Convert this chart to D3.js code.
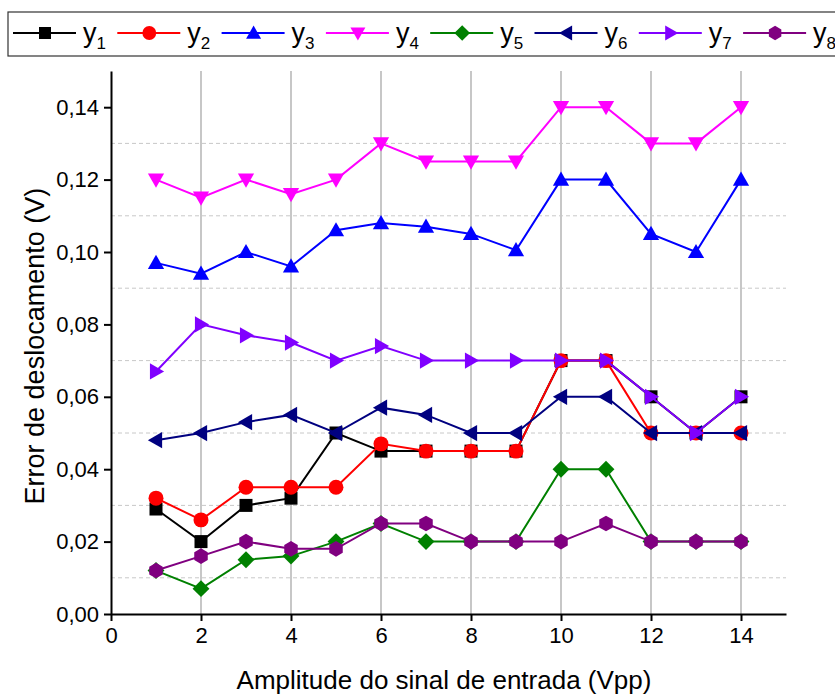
<!DOCTYPE html>
<meta charset="utf-8">
<title>Error de deslocamento</title>
<style>
  body { margin: 0; background: #fff; }
  text { font-family: "Liberation Sans Narrow", "Arial Narrow", "Liberation Sans", sans-serif; }
</style>
<body>
<script src="https://d3js.org/d3.v7.min.js"></script>
<script>

// dados
var amplitude = [1, 2, 3, 4, 5, 6, 7, 8, 9, 10, 11, 12, 13, 14];
var y1 = [0.029, 0.020, 0.030, 0.032, 0.050, 0.045, 0.045, 0.045, 0.045, 0.070, 0.070, 0.060, 0.050, 0.060];
var y2 = [0.032, 0.026, 0.035, 0.035, 0.035, 0.047, 0.045, 0.045, 0.045, 0.070, 0.070, 0.050, 0.050, 0.050];
var y3 = [0.097, 0.094, 0.100, 0.096, 0.106, 0.108, 0.107, 0.105, 0.1005, 0.120, 0.120, 0.105, 0.100, 0.120];
var y4 = [0.120, 0.115, 0.120, 0.116, 0.120, 0.130, 0.125, 0.125, 0.125, 0.140, 0.140, 0.130, 0.130, 0.140];
var y5 = [0.012, 0.007, 0.015, 0.016, 0.020, 0.025, 0.020, 0.020, 0.020, 0.040, 0.040, 0.020, 0.020, 0.020];
var y6 = [0.048, 0.050, 0.053, 0.055, 0.050, 0.057, 0.055, 0.050, 0.050, 0.060, 0.060, 0.050, 0.050, 0.050];
var y7 = [0.067, 0.080, 0.077, 0.075, 0.070, 0.074, 0.070, 0.070, 0.070, 0.070, 0.070, 0.060, 0.050, 0.060];
var y8 = [0.012, 0.016, 0.020, 0.018, 0.018, 0.025, 0.025, 0.020, 0.020, 0.020, 0.025, 0.020, 0.020, 0.020];

var seriesNames = ["1", "2", "3", "4", "5", "6", "7", "8"];
var seriesValues = [y1, y2, y3, y4, y5, y6, y7, y8];
var colors = ["#000000", "#ff0000", "#0000ff", "#ff00ff", "#008000", "#000080", "#8000ff", "#800080"];
var shapes = ["square", "circle", "up", "down", "diamond", "left", "right", "hexagon"];

var xTicks = [0, 2, 4, 6, 8, 10, 12, 14];
var yTicks = [0, 0.02, 0.04, 0.06, 0.08, 0.10, 0.12, 0.14];
var yMinor = [0.01, 0.03, 0.05, 0.07, 0.09, 0.11, 0.13];

var width = 835, height = 697;
var margin = {left: 111, right: 49, top: 71, bottom: 83};

var svg = d3.select("body").append("svg")
    .attr("width", width)
    .attr("height", height);

var x = d3.scaleLinear().domain([0, 15]).range([margin.left, width - margin.right]);
var y = d3.scaleLinear().domain([0, 0.15]).range([height - margin.bottom, margin.top]);

// grade
svg.append("g").selectAll("line")
    .data(xTicks.filter(function(d) { return d > 0; }))
    .enter().append("line")
    .attr("x1", function(d) { return x(d); })
    .attr("x2", function(d) { return x(d); })
    .attr("y1", y(0.15)).attr("y2", y(0))
    .attr("stroke", "#b4b4b4").attr("stroke-width", 1.5);

svg.append("g").selectAll("line")
    .data(yMinor)
    .enter().append("line")
    .attr("x1", x(0)).attr("x2", x(15))
    .attr("y1", function(d) { return y(d); })
    .attr("y2", function(d) { return y(d); })
    .attr("stroke", "#c8c8c8").attr("stroke-width", 1)
    .attr("stroke-dasharray", "4,3");

// eixos
var fmt = function(d) { return d3.format(".2f")(d).replace(".", ","); };

var gx = svg.append("g")
    .attr("transform", "translate(0," + y(0) + ")")
    .call(d3.axisBottom(x).tickValues(xTicks).tickSize(7).tickSizeOuter(0).tickPadding(6));
var gy = svg.append("g")
    .attr("transform", "translate(" + x(0) + ",0)")
    .call(d3.axisLeft(y).tickValues(yTicks).tickFormat(fmt).tickSize(7).tickSizeOuter(0).tickPadding(5));

[gx, gy].forEach(function(g) {
  g.select(".domain").attr("stroke", "#000").attr("stroke-width", 2);
  g.selectAll(".tick line").attr("stroke", "#000").attr("stroke-width", 2);
  g.selectAll(".tick text").attr("fill", "#000").style("font-size", "22px");
});

svg.append("text")
    .attr("x", x(7.4)).attr("y", 689)
    .attr("text-anchor", "middle")
    .style("font-size", "26px")
    .text("Amplitude do sinal de entrada (Vpp)");

svg.append("text")
    .attr("transform", "translate(44," + y(0.074) + ") rotate(-90)")
    .attr("text-anchor", "middle")
    .style("font-size", "27px")
    .text("Error de deslocamento (V)");

// marcadores
function markerPath(shape, s) {
  var p;
  if (shape === "square") {
    p = [[-s, -s], [s, -s], [s, s], [-s, s]];
  } else if (shape === "diamond") {
    var d = s * 1.3;
    p = [[0, -d], [d, 0], [0, d], [-d, 0]];
  } else if (shape === "up") {
    var t = s * 1.25;
    p = [[0, -t], [t, t * 0.75], [-t, t * 0.75]];
  } else if (shape === "down") {
    var t2 = s * 1.25;
    p = [[0, t2], [t2, -t2 * 0.75], [-t2, -t2 * 0.75]];
  } else if (shape === "left") {
    var t3 = s * 1.25;
    p = [[-t3, 0], [t3 * 0.75, -t3], [t3 * 0.75, t3]];
  } else if (shape === "right") {
    var t4 = s * 1.25;
    p = [[t4, 0], [-t4 * 0.75, -t4], [-t4 * 0.75, t4]];
  } else if (shape === "hexagon") {
    var r = s * 1.2;
    p = d3.range(6).map(function(i) {
      var a = Math.PI / 3 * i - Math.PI / 2;
      return [r * Math.cos(a), r * Math.sin(a)];
    });
  }
  if (shape === "circle") {
    var c = s * 1.15;
    return "M" + (-c) + ",0A" + c + "," + c + " 0 1,0 " + c + ",0A" + c + "," + c + " 0 1,0 " + (-c) + ",0Z";
  }
  return "M" + p.map(function(q) { return q.join(","); }).join("L") + "Z";
}

var line = d3.line()
    .x(function(d, i) { return x(amplitude[i]); })
    .y(function(d) { return y(d); });

seriesValues.forEach(function(vals, k) {
  var g = svg.append("g").attr("class", "series");
  g.append("path")
      .datum(vals)
      .attr("d", line)
      .attr("fill", "none")
      .attr("stroke", colors[k])
      .attr("stroke-width", 2);
  g.selectAll("path.m")
      .data(vals)
      .enter().append("path")
      .attr("class", "m")
      .attr("transform", function(d, i) { return "translate(" + x(amplitude[i]) + "," + y(d) + ")"; })
      .attr("d", markerPath(shapes[k], 6.5))
      .attr("fill", colors[k]);
});

// legenda
var legend = svg.append("g");
legend.append("rect")
    .attr("x", 8).attr("y", 12)
    .attr("width", 840).attr("height", 44)
    .attr("fill", "#fff")
    .attr("stroke", "#333").attr("stroke-width", 1.2);

var items = legend.selectAll("g.item")
    .data(seriesNames)
    .enter().append("g")
    .attr("class", "item")
    .attr("transform", function(d, i) { return "translate(" + (13 + i * 104.3) + ",33)"; });

items.append("line")
    .attr("x1", 0).attr("x2", 63)
    .attr("stroke", function(d, i) { return colors[i]; })
    .attr("stroke-width", 2);
items.append("path")
    .attr("transform", "translate(32,0)")
    .attr("d", function(d, i) { return markerPath(shapes[i], 6); })
    .attr("fill", function(d, i) { return colors[i]; });

var lt = items.append("text")
    .attr("x", 70).attr("y", 9)
    .style("font-size", "27px");
lt.append("tspan").text("y");
lt.append("tspan").attr("dy", 7).style("font-size", "17px").text(function(d) { return d; });

</script>
